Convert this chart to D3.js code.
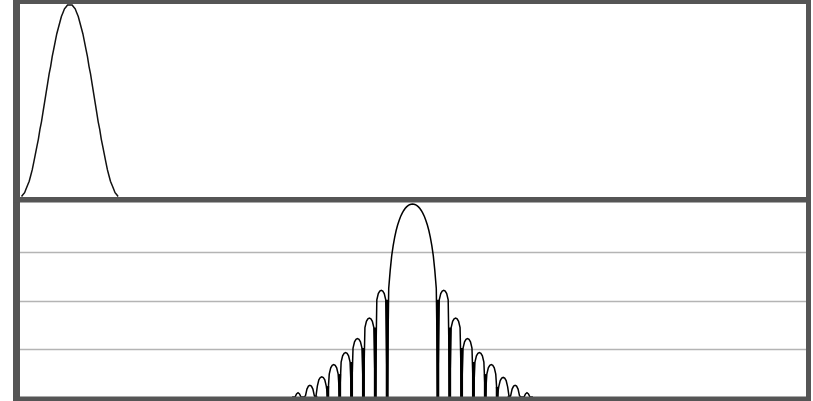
<!DOCTYPE html>
<html>
<head>
<meta charset="utf-8">
<script src="https://cdn.jsdelivr.net/npm/d3@7"></script>
<style>
  html, body { margin: 0; padding: 0; background: #fff; }
  svg { display: block; }
</style>
</head>
<body>
<svg id="chart" width="813" height="401"></svg>
<script>
// Window samples (amplitude 0..1), first sample sits at index 1 of a 512-sample buffer
const windowStart = 1;
const windowSamples = [
  0.00, 0.01, 0.02, 0.04, 0.06, 0.08, 0.11, 0.14, 0.18, 0.22, 0.26, 0.30, 0.35, 0.39, 0.44, 0.49,
  0.54, 0.59, 0.64, 0.68, 0.73, 0.77, 0.81, 0.85, 0.88, 0.91, 0.94, 0.96, 0.98, 0.99, 1.00, 1.00,
  1.00, 1.00, 0.99, 0.98, 0.96, 0.94, 0.91, 0.88, 0.85, 0.81, 0.77, 0.73, 0.68, 0.64, 0.59, 0.54,
  0.49, 0.44, 0.39, 0.35, 0.30, 0.26, 0.22, 0.18, 0.14, 0.11, 0.08, 0.06, 0.04, 0.02, 0.01, 0.00
];
const bufferLength = 512;

// Magnitude spectrum in dB, one value per frequency bin, bins -81 .. 81 around DC.
// -100 marks the zeros between lobes (below the display floor).
const spectrumStartBin = -81;
const leftLobesDb = [
  -100,
  -83.2, -80.2, -78.7, -78.2, -78.7, -80.2, -83.2,
  -100,
  -79.5, -76.7, -75.5, -75.2, -75.5, -76.7, -79.5,
  -100,
  -75.5, -72.9, -71.9, -71.6, -71.9, -72.9, -75.5,
  -100,
  -70.5, -67.9, -66.9, -66.6, -66.9, -67.9, -70.5,
  -100,
  -65.5, -62.9, -61.9, -61.6, -61.9, -62.9, -65.5,
  -100,
  -59.7, -57.1, -56.1, -55.8, -56.1, -57.1, -59.7,
  -100,
  -51.2, -48.6, -47.6, -47.3, -47.6, -48.6, -51.2,
  -100,
  -39.7, -37.1, -36.1, -35.8, -36.1, -37.1, -39.7
];
const mainLobeDb = [
  -100,
  -35, -27.5, -21.5, -17.3, -13.8, -11, -8.7, -6.8, -5.2, -3.9, -2.8, -1.9, -1.2, -0.7, -0.3, -0.1,
  0,
  -0.1, -0.3, -0.7, -1.2, -1.9, -2.8, -3.9, -5.2, -6.8, -8.7, -11, -13.8, -17.3, -21.5, -27.5, -35,
  -100
];
const rightLobesDb = [
  -39.7, -37.1, -36.1, -35.8, -36.1, -37.1, -39.7,
  -100,
  -51.2, -48.6, -47.6, -47.3, -47.6, -48.6, -51.2,
  -100,
  -59.7, -57.1, -56.1, -55.8, -56.1, -57.1, -59.7,
  -100,
  -65.5, -62.9, -61.9, -61.6, -61.9, -62.9, -65.5,
  -100,
  -70.5, -67.9, -66.9, -66.6, -66.9, -67.9, -70.5,
  -100,
  -75.8, -73.2, -72.2, -71.9, -72.2, -73.2, -75.8,
  -100,
  -79.5, -76.7, -75.5, -75.2, -75.5, -76.7, -79.5,
  -100,
  -83.2, -80.2, -78.7, -78.2, -78.7, -80.2, -83.2,
  -100
];
const binRange = [-264, 264];
const dbRange = [-80, 0];
const dbGrid = [-20, -40, -60];

const svg = d3.select("#chart");
const frameColor = "#555";

// Plot areas
const left = 20, right = 806;
const top1 = 4.5, bottom1 = 196.5;
const top2 = 204, bottom2 = 397;

// Scales
const xTime = d3.scaleLinear().domain([0, bufferLength]).range([left, right - 1]);
const yAmp = d3.scaleLinear().domain([0, 1]).range([bottom1, top1 + 0.5]);
const xFreq = d3.scaleLinear().domain(binRange).range([left, right - 1]);
const yDb = d3.scaleLinear().domain(dbRange).range([bottom2, top2]).clamp(true);

// Grid lines of the spectrum panel
svg.append("g")
  .selectAll("line")
  .data(dbGrid)
  .join("line")
  .attr("x1", left).attr("x2", right)
  .attr("y1", d => Math.round(yDb(d)) + 0.5)
  .attr("y2", d => Math.round(yDb(d)) + 0.5)
  .attr("stroke", "#b4b4b4")
  .attr("stroke-width", 1.5);

// Time-domain window
const pulse = windowSamples.map((v, i) => ({ t: windowStart + i, v }));
svg.append("path")
  .datum(pulse)
  .attr("fill", "none")
  .attr("stroke", "#111")
  .attr("stroke-width", 1.5)
  .attr("d", d3.line().x(d => xTime(d.t)).y(d => yAmp(d.v)));

// Spectrum
const spectrumDb = leftLobesDb.concat(mainLobeDb, rightLobesDb);
const spectrum = spectrumDb.map((v, i) => ({ bin: spectrumStartBin + i, db: v }));
svg.append("path")
  .datum(spectrum)
  .attr("fill", "none")
  .attr("stroke", "#000")
  .attr("stroke-width", 1.5)
  .attr("d", d3.line().x(d => xFreq(d.bin)).y(d => yDb(d.db)));

// The narrow dips at the spectral zeros: the line drops to the floor and back
// within one bin on each side, so they show as solid strokes.
const floorDb = dbRange[0];
const dips = spectrum
  .map((d, i) => {
    if (d.db > floorDb) return null;
    const prev = spectrum[i - 1], next = spectrum[i + 1];
    if (!prev || !next) return null;
    const upper = Math.min(prev.db, next.db);
    return upper > floorDb ? { bin: d.bin, db: upper } : null;
  })
  .filter(Boolean);
svg.append("g")
  .selectAll("line")
  .data(dips)
  .join("line")
  .attr("x1", d => xFreq(d.bin)).attr("x2", d => xFreq(d.bin))
  .attr("y1", d => yDb(d.db)).attr("y2", yDb(floorDb))
  .attr("stroke", "#000")
  .attr("stroke-width", 3);

// Frame: outer box and divider between the two panels
const frame = svg.append("g").attr("fill", frameColor);
frame.append("rect").attr("x", 13).attr("y", 0).attr("width", 7).attr("height", 401);
frame.append("rect").attr("x", 806).attr("y", 0).attr("width", 5).attr("height", 401);
frame.append("rect").attr("x", 13).attr("y", 0).attr("width", 798).attr("height", 4);
frame.append("rect").attr("x", 13).attr("y", 197).attr("width", 798).attr("height", 5.5);
frame.append("rect").attr("x", 13).attr("y", 396.5).attr("width", 798).attr("height", 4.5);
</script>
</body>
</html>
